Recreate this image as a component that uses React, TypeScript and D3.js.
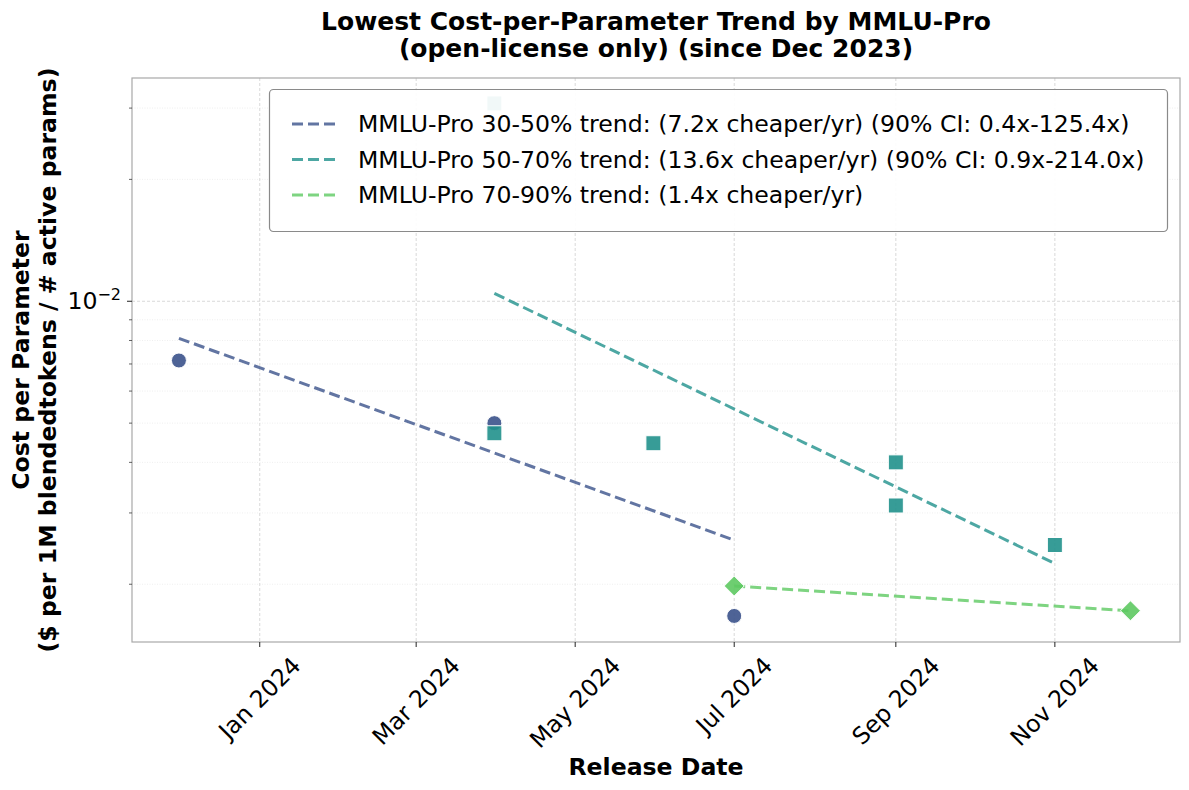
import { useEffect, useRef } from 'react';
import * as d3 from 'd3';

// release dates and cost per parameter for each MMLU-Pro band
const band3050Dates = ['2023-12-01', '2024-03-31', '2024-07-01'];
const band3050Values = [0.00714, 0.0050, 0.00167];
const band5070Dates = ['2024-03-31', '2024-03-31', '2024-05-31', '2024-09-01', '2024-09-01', '2024-11-01'];
const band5070Values = [0.0308, 0.00472, 0.00446, 0.0040, 0.00313, 0.0025];
const band7090Dates = ['2024-07-01', '2024-11-30'];
const band7090Values = [0.00198, 0.00172];

// fitted trend end points
const trend3050Dates = ['2023-12-01', '2024-07-01'];
const trend3050Values = [0.0081, 0.00257];
const trend5070Dates = ['2024-03-31', '2024-11-01'];
const trend5070Values = [0.01046, 0.00225];
const trend7090Dates = ['2024-07-01', '2024-11-30'];
const trend7090Values = [0.00198, 0.00172];

const legendLabels = [
  'MMLU-Pro 30-50% trend: (7.2x cheaper/yr) (90% CI: 0.4x-125.4x)',
  'MMLU-Pro 50-70% trend: (13.6x cheaper/yr) (90% CI: 0.9x-214.0x)',
  'MMLU-Pro 70-90% trend: (1.4x cheaper/yr)',
];
const xTickDates = ['2024-01-01', '2024-03-01', '2024-05-01', '2024-07-01', '2024-09-01', '2024-11-01'];
const xDomain = ['2023-11-13', '2024-12-19'];
const yDomain = [0.00144, 0.0356];

const colors = ['#3b528b', '#21918c', '#5ec962'];
const font = '"DejaVu Sans", sans-serif';
const fs = 23.6;

export default function App() {
  const svgRef = useRef<SVGSVGElement>(null);

  useEffect(() => {
    document.body.style.margin = '0';
    if (!svgRef.current) return;
    const width = 1189;
    const height = 790;
    const svg = d3.select(svgRef.current);
    svg.selectAll('*').remove();
    svg.attr('width', width).attr('height', height).style('font-family', font);

    const margin = { top: 78, right: 9, bottom: 148, left: 132 };
    const parse = d3.utcParse('%Y-%m-%d');
    const x = d3.scaleUtc()
      .domain(xDomain.map(d => parse(d) as Date))
      .range([margin.left, width - margin.right]);
    const y = d3.scaleLog()
      .domain(yDomain)
      .range([height - margin.bottom, margin.top]);

    const x0 = margin.left, x1 = width - margin.right;
    const y0 = margin.top, y1 = height - margin.bottom;

    svg.append('rect').attr('width', width).attr('height', height).attr('fill', '#fff');

    // minor grid
    const minorTicks: number[] = [];
    for (let e = -3; e <= -1; e++) {
      for (let m = 2; m <= 9; m++) {
        const v = m * Math.pow(10, e);
        if (v > yDomain[0] && v < yDomain[1]) minorTicks.push(v);
      }
    }
    svg.append('g').selectAll('line').data(minorTicks).enter().append('line')
      .attr('x1', x0).attr('x2', x1)
      .attr('y1', d => y(d)).attr('y2', d => y(d))
      .attr('stroke', '#e4e4e4').attr('stroke-width', 0.6).attr('stroke-dasharray', '1,1.5');

    // major grid
    const grid = svg.append('g');
    grid.selectAll('line.vx').data(xTickDates).enter().append('line')
      .attr('x1', d => x(parse(d) as Date)).attr('x2', d => x(parse(d) as Date))
      .attr('y1', y0).attr('y2', y1)
      .attr('stroke', '#cfcfcf').attr('stroke-width', 0.8).attr('stroke-dasharray', '3,2');
    grid.append('line')
      .attr('x1', x0).attr('x2', x1).attr('y1', y(0.01)).attr('y2', y(0.01))
      .attr('stroke', '#cfcfcf').attr('stroke-width', 0.8).attr('stroke-dasharray', '3,2');

    // trend lines
    const line = d3.line<[string, number]>()
      .x(d => x(parse(d[0]) as Date))
      .y(d => y(d[1]));
    const trends: [string[], number[]][] = [
      [trend3050Dates, trend3050Values],
      [trend5070Dates, trend5070Values],
      [trend7090Dates, trend7090Values],
    ];
    trends.forEach(([ds, vs], i) => {
      svg.append('path')
        .datum(ds.map((d, j) => [d, vs[j]] as [string, number]))
        .attr('d', line)
        .attr('fill', 'none')
        .attr('stroke', colors[i])
        .attr('stroke-opacity', 0.8)
        .attr('stroke-width', 3)
        .attr('stroke-dasharray', '11,5');
    });

    // points
    const pts = svg.append('g');
    band3050Dates.forEach((d, i) => {
      pts.append('circle')
        .attr('cx', x(parse(d) as Date)).attr('cy', y(band3050Values[i]))
        .attr('r', 7.5)
        .attr('fill', colors[0]).attr('fill-opacity', 0.9)
        .attr('stroke', '#fff').attr('stroke-width', 1);
    });
    band5070Dates.forEach((d, i) => {
      const cx = x(parse(d) as Date), cy = y(band5070Values[i]);
      pts.append('rect')
        .attr('x', cx - 7.5).attr('y', cy - 7.5).attr('width', 15).attr('height', 15)
        .attr('fill', colors[1]).attr('fill-opacity', 0.9)
        .attr('stroke', '#fff').attr('stroke-width', 1);
    });
    band7090Dates.forEach((d, i) => {
      const cx = x(parse(d) as Date), cy = y(band7090Values[i]);
      pts.append('path')
        .attr('d', `M${cx},${cy - 10}L${cx + 10},${cy}L${cx},${cy + 10}L${cx - 10},${cy}Z`)
        .attr('fill', colors[2]).attr('fill-opacity', 0.9)
        .attr('stroke', '#fff').attr('stroke-width', 1);
    });

    // frame
    svg.append('rect')
      .attr('x', x0).attr('y', y0).attr('width', x1 - x0).attr('height', y1 - y0)
      .attr('fill', 'none').attr('stroke', '#a8a8a8').attr('stroke-width', 1.2);

    // x ticks
    const xt = svg.append('g');
    xTickDates.forEach(d => {
      const tx = x(parse(d) as Date);
      xt.append('line').attr('x1', tx).attr('x2', tx).attr('y1', y1).attr('y2', y1 + 5)
        .attr('stroke', '#222').attr('stroke-width', 1);
      const label = d3.utcFormat('%b %Y')(parse(d) as Date);
      const t = xt.append('text')
        .attr('font-size', fs)
        .attr('text-anchor', 'middle')
        .attr('dominant-baseline', 'central')
        .attr('fill', '#000')
        .text(label);
      const w = (t.node() as SVGTextElement).getComputedTextLength();
      const bh = (w + 24) * Math.SQRT1_2;
      const cy = y1 + 11 + bh / 2;
      t.attr('transform', `translate(${tx},${cy}) rotate(-45)`);
    });

    // y ticks
    const yt = svg.append('g');
    minorTicks.forEach(v => {
      yt.append('line').attr('x1', x0 - 3).attr('x2', x0).attr('y1', y(v)).attr('y2', y(v))
        .attr('stroke', '#222').attr('stroke-width', 0.7);
    });
    yt.append('line').attr('x1', x0 - 5).attr('x2', x0).attr('y1', y(0.01)).attr('y2', y(0.01))
      .attr('stroke', '#222').attr('stroke-width', 1);
    const yl = yt.append('text')
      .attr('x', x0 - 11).attr('y', y(0.01) + 8)
      .attr('text-anchor', 'end').attr('font-size', fs).attr('fill', '#000');
    yl.append('tspan').text('10');
    yl.append('tspan').attr('font-size', 16).attr('dy', -9).text('−2');

    // legend
    const lg = svg.append('g');
    lg.append('rect')
      .attr('x', 269.5).attr('y', 89.5).attr('width', 898).attr('height', 142).attr('rx', 4)
      .attr('fill', '#fff').attr('fill-opacity', 0.93)
      .attr('stroke', '#8a8a8a').attr('stroke-width', 1.2);
    legendLabels.forEach((lab, i) => {
      const ly = 124 + i * 35.5;
      lg.append('line').attr('x1', 292).attr('x2', 340).attr('y1', ly).attr('y2', ly)
        .attr('stroke', colors[i]).attr('stroke-opacity', 0.8)
        .attr('stroke-width', 3).attr('stroke-dasharray', '11,5');
      lg.append('text').attr('x', 358).attr('y', ly).attr('dominant-baseline', 'central')
        .attr('font-size', fs).attr('fill', '#000').text(lab);
    });

    // title
    const title = svg.append('text').attr('text-anchor', 'middle')
      .attr('font-size', 25).attr('font-weight', 'bold').attr('fill', '#000');
    title.append('tspan').attr('x', 656).attr('y', 30).text('Lowest Cost-per-Parameter Trend by MMLU-Pro');
    title.append('tspan').attr('x', 656).attr('y', 57).text('(open-license only) (since Dec 2023)');

    // axis labels
    svg.append('text').attr('x', 656).attr('y', 767).attr('text-anchor', 'middle')
      .attr('dominant-baseline', 'central')
      .attr('font-size', fs).attr('font-weight', 'bold').attr('fill', '#000').text('Release Date');
    const ylab = svg.append('text').attr('text-anchor', 'middle')
      .attr('transform', `translate(0,${(y0 + y1) / 2}) rotate(-90)`)
      .attr('font-size', fs).attr('font-weight', 'bold').attr('fill', '#000');
    ylab.append('tspan').attr('x', 0).attr('y', 28.5).text('Cost per Parameter');
    ylab.append('tspan').attr('x', 0).attr('y', 56).text('($ per 1M blendedtokens / # active params)');
  }, []);

  return <svg ref={svgRef}></svg>;
}
